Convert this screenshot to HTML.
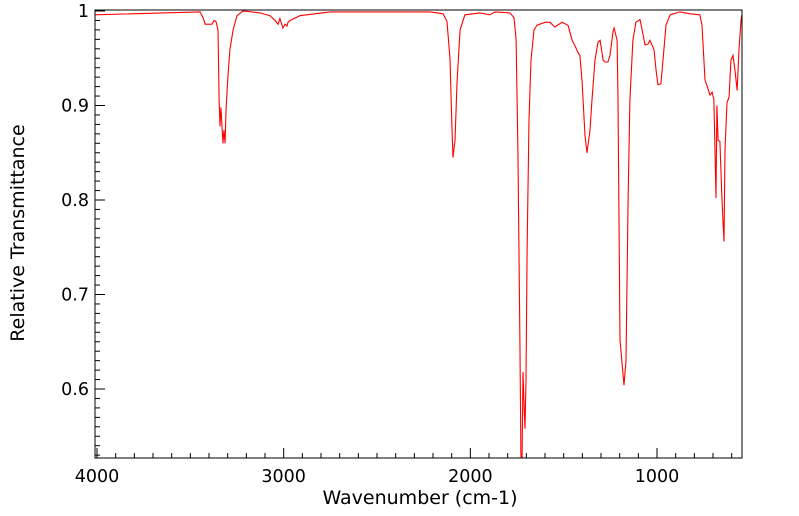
<!DOCTYPE html>
<html><head><meta charset="utf-8"><style>
html,body{margin:0;padding:0;background:#fff;}
svg{display:block;font-family:"DejaVu Sans","Liberation Sans",sans-serif;}
</style></head><body>
<svg id="chart" width="799" height="516">
<defs><clipPath id="clip"><rect x="95" y="10" width="647" height="448"/></clipPath></defs>
<g id="ticks"></g>
<path id="line" fill="none" stroke="#ff0000" stroke-width="1.1" clip-path="url(#clip)"/>
<rect x="95" y="10" width="647" height="448" fill="none" stroke="#000" stroke-width="1"/>
<text x="420" y="504" text-anchor="middle" font-size="19">Wavenumber (cm-1)</text>
<text transform="translate(24,233) rotate(-90)" text-anchor="middle" font-size="19">Relative Transmittance</text>
</svg>
<script>
const wavenumbers=[4011,3448,3432,3421,3384,3373,3363,3352,3346,3341,3336,3330,3325,3320,3314,3309,3298,3288,3271,3250,3218,3127,3073,3046,3030,3020,3004,2993,2982,2977,2966,2913,2752,2377,2216,2146,2125,2109,2098,2093,2082,2071,2055,2029,1948,1895,1868,1788,1766,1755,1745,1734,1729,1723,1718,1713,1707,1702,1696,1686,1675,1659,1643,1600,1573,1547,1509,1477,1455,1439,1423,1413,1402,1386,1375,1359,1348,1332,1316,1305,1289,1279,1263,1252,1236,1230,1214,1209,1198,1188,1177,1166,1155,1145,1129,1113,1091,1080,1064,1048,1038,1027,1016,1005,995,979,968,952,930,877,823,771,759,743,732,716,705,695,684,679,673,663,652,641,636,625,614,604,593,582,571,561,550,545];
const transmittance=[0.996,0.999,0.993,0.986,0.986,0.990,0.989,0.980,0.906,0.878,0.898,0.876,0.860,0.874,0.860,0.895,0.932,0.959,0.980,0.995,1.000,0.998,0.995,0.990,0.986,0.992,0.982,0.986,0.984,0.988,0.990,0.995,0.999,0.999,0.999,0.997,0.989,0.949,0.875,0.845,0.863,0.926,0.980,0.996,0.998,0.996,0.999,0.998,0.993,0.970,0.853,0.641,0.529,0.520,0.618,0.588,0.558,0.609,0.747,0.885,0.948,0.980,0.985,0.988,0.988,0.983,0.988,0.985,0.969,0.963,0.956,0.953,0.927,0.868,0.850,0.874,0.906,0.948,0.967,0.969,0.948,0.946,0.946,0.953,0.978,0.982,0.969,0.906,0.652,0.629,0.604,0.630,0.800,0.906,0.969,0.988,0.991,0.980,0.964,0.965,0.969,0.964,0.959,0.937,0.922,0.923,0.948,0.985,0.996,0.999,0.997,0.996,0.985,0.927,0.921,0.911,0.914,0.906,0.802,0.900,0.863,0.862,0.800,0.756,0.853,0.903,0.909,0.948,0.953,0.937,0.916,0.959,0.990,0.996];
const xTickLabels=[4000,3000,2000,1000];
const yTickLabels=[0.6,0.7,0.8,0.9,1];
const NS='http://www.w3.org/2000/svg';
function xs(w){return 97+(4000-w)*0.18667;}
function ys(t){return 11+(1-t)*945;}
let d='';
for(let i=0;i<wavenumbers.length;i++){d+=(i?'L':'M')+xs(wavenumbers[i]).toFixed(1)+','+ys(transmittance[i]).toFixed(1);}
document.getElementById('line').setAttribute('d',d);
const g=document.getElementById('ticks');
const svg=document.getElementById('chart');
function ln(x1,y1,x2,y2){const l=document.createElementNS(NS,'line');l.setAttribute('x1',x1);l.setAttribute('y1',y1);l.setAttribute('x2',x2);l.setAttribute('y2',y2);l.setAttribute('stroke','#000');l.setAttribute('stroke-width','1');g.appendChild(l);return l;}
for(let w=4000;w>=600;w-=100){const x=xs(w);const major=w%1000===0;const t=ln(x,458,x,458-(major?10:5));

}
for(let k=53;k<=100;k++){const v=k/100;const y=ys(v);const major=k%10===0;const t=ln(95,y,95+(major?10:5),y);

}
xTickLabels.forEach(v=>{const t=document.createElementNS(NS,'text');t.setAttribute('x',xs(v));t.setAttribute('y',482);t.setAttribute('text-anchor','middle');t.setAttribute('font-size','17.5');t.textContent=v;


svg.appendChild(t);});
yTickLabels.forEach(v=>{const t=document.createElementNS(NS,'text');t.setAttribute('x',89);t.setAttribute('y',ys(v)+6);t.setAttribute('text-anchor','end');t.setAttribute('font-size','17.5');t.textContent=v;


svg.appendChild(t);});
</script>
</body></html>
